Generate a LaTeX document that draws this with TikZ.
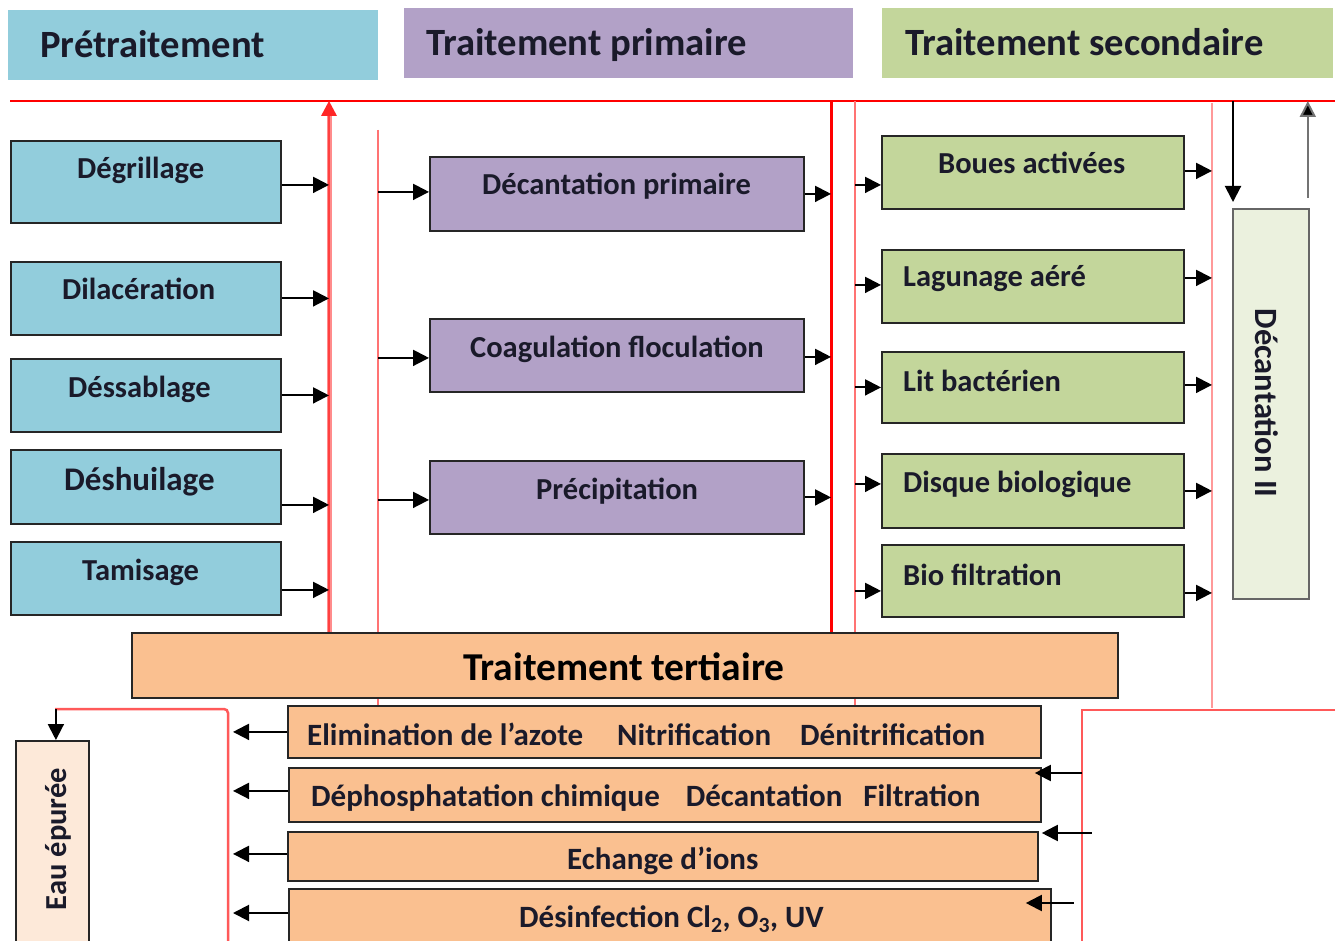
\documentclass[tikz,border=0pt]{standalone}
\usepackage{fontspec}
\setmainfont{Carlito}
\usetikzlibrary{arrows.meta}
\definecolor{cblue}{HTML}{92CDDC}
\definecolor{cpurp}{HTML}{B2A1C7}
\definecolor{cgreen}{HTML}{C3D69B}
\definecolor{corange}{HTML}{FAC090}
\definecolor{cdec}{HTML}{EBF1DE}
\definecolor{ceau}{HTML}{FDE9D9}
\definecolor{ctext}{HTML}{1A1A2A}
\tikzset{
  box/.style={draw=black!85, line width=1.8pt, anchor=north west, inner sep=0pt},
  hdr/.style={anchor=north west, inner sep=0pt},
  lab/.style={anchor=base west, inner sep=0pt, text=ctext, font=\fontsize{30.5}{36}\selectfont\bfseries},
  blab/.style={lab, font=\fontsize{31}{36}\selectfont\bfseries},
  htxt/.style={anchor=base west, inner sep=0pt, text=ctext, font=\fontsize{38.6}{44}\selectfont\bfseries},
  arr/.style={draw=black, line width=2pt, -{Triangle[length=16pt,width=16pt]}},
  arrg/.style={draw=black!55, line width=2pt, -{Triangle[length=16pt,width=16pt,fill=black]}},
}
\begin{document}
\begin{tikzpicture}[x=1pt,y=-1pt]
\useasboundingbox (0,0) rectangle (1341,941);
\clip (0,0) rectangle (1341,941);
\fill[white] (0,0) rectangle (1341,941);

% headers
\node[hdr, fill=cblue, minimum width=370pt, minimum height=70pt] (h1) at (8,10) {};
\node[hdr, fill=cpurp, minimum width=449pt, minimum height=70pt] (h2) at (404,8) {};
\node[hdr, fill=cgreen, minimum width=451pt, minimum height=70pt] (h3) at (882,8) {};
\node[htxt] (t1) at (40,58) {Prétraitement};
\node[htxt] (t2) at (426,56) {Traitement primaire};
\node[htxt] (t3) at (905,56) {Traitement secondaire};

% reference coordinates of the red lines
\coordinate (T) at (0,101);
\coordinate (L1) at (329,101);
\coordinate (L2) at (378,130);
\coordinate (L3) at (831,101);
\coordinate (L4) at (855,101);
\coordinate (L5) at (1212,103);
\coordinate (LB) at (228,709);
\coordinate (RB) at (1082,710);
\coordinate (X5) at (233,0);

% red lines behind boxes
\draw[red, line width=2pt] (10,101) -- (1335,101);
\draw[red!55, line width=2.6pt] (L2) -- (378,705);
\draw[red!55, line width=2.6pt] (L4) -- (855,705);
\draw[red!40, line width=2pt] (L5) -- (1212,708);
\draw[red!65, line width=2.5pt, rounded corners=4pt] (55,709) -- (LB) -- (228,945);
\draw[red!65, line width=2.5pt] (1335,710) -- (RB) -- (1082,945);

% pretreatment boxes
\node[box, fill=cblue, minimum width=270pt, minimum height=82pt] (dg) at (10,140) {};
\node[box, fill=cblue, minimum width=270pt, minimum height=73pt] (dl) at (10,261) {};
\node[box, fill=cblue, minimum width=270pt, minimum height=73pt] (ds) at (10,358) {};
\node[box, fill=cblue, minimum width=270pt, minimum height=74pt] (dh) at (10,449) {};
\node[box, fill=cblue, minimum width=270pt, minimum height=73pt] (tm) at (10,541) {};
\node[lab] at (77,179) {Dégrillage};
\node[lab] at (62,300) {Dilacération};
\node[lab] at (68,397) {Déssablage};
\node[lab, font=\fontsize{33}{38}\selectfont\bfseries] at (64,490) {Déshuilage};
\node[lab] at (82,580) {Tamisage};

% primary boxes
\node[box, fill=cpurp, minimum width=374pt, minimum height=74pt] (dp) at (429,156) {};
\node[box, fill=cpurp, minimum width=374pt, minimum height=73pt] (cf) at (429,318) {};
\node[box, fill=cpurp, minimum width=374pt, minimum height=73pt] (pr) at (429,460) {};
\node[lab] at (482,195) {Décantation primaire};
\node[lab] at (470,357) {Coagulation floculation};
\node[lab] at (536,499) {Précipitation};

% secondary boxes
\node[box, fill=cgreen, minimum width=302pt, minimum height=73pt] (ba) at (881,135) {};
\node[box, fill=cgreen, minimum width=302pt, minimum height=73pt] (lg) at (881,249) {};
\node[box, fill=cgreen, minimum width=302pt, minimum height=71pt] (lb) at (881,351) {};
\node[box, fill=cgreen, minimum width=302pt, minimum height=74pt] (db) at (881,453) {};
\node[box, fill=cgreen, minimum width=302pt, minimum height=72pt] (bf) at (881,544) {};
\node[lab] at (938,174) {Boues activées};
\node[lab] at (903,287) {Lagunage aéré};
\node[lab] at (903,391) {Lit bactérien};
\node[lab] at (903,492) {Disque biologique};
\node[lab] at (903,585) {Bio filtration};

% decantation II
\node[box, draw=black!60, fill=cdec, minimum width=76pt, minimum height=390pt] (d2) at (1232,208) {};
\node[lab, anchor=center, rotate=-90, font=\fontsize{32.5}{38}\selectfont\bfseries] at (1267,403) {Décantation II};

% thick red lines (front)
\draw[red!45, line width=5pt] (329,632) -- (329,112);
\draw[red!75, line width=1.2pt] (329,632) -- (329,112);
\fill[red!85] (329,101) -- (337,116) -- (321,116) -- cycle;
\draw[red, line width=3pt] (L3) -- (831,632);

% tertiary
\node[box, fill=corange, minimum width=986pt, minimum height=65pt] (tt) at (131,632) {};
\node[htxt, text=black, font=\fontsize{39.5}{44}\selectfont\bfseries] at (463,680) {Traitement tertiaire};
\node[box, fill=corange, minimum width=753pt, minimum height=52pt] (el) at (287,705) {};
\node[box, fill=corange, minimum width=752pt, minimum height=54pt] (dph) at (288,767) {};
\node[box, fill=corange, minimum width=750pt, minimum height=49pt] (ec) at (287,831) {};
\node[box, fill=corange, minimum width=762pt, minimum height=80pt] (dsf) at (288,888) {};
\node[blab] at (307,745) {Elimination de l’azote\hspace{34pt}Nitrification\hspace{29pt}Dénitrification};
\node[blab] at (311,806) {Déphosphatation chimique\hspace{26pt}Décantation\hspace{21pt}Filtration};
\node[blab] at (567,869) {Echange d’ions};
\node[blab] at (519,927) {Désinfection Cl\textsubscript{2}, O\textsubscript{3}, UV};

% eau epuree
\node[box, fill=ceau, minimum width=73pt, minimum height=220pt] (ep) at (15,740) {};
\node[lab, anchor=center, rotate=90] at (58,839) {Eau épurée};

% arrows pretreatment -> L1
\draw[arr] ([yshift=-3pt]dg.east) -- ([yshift=-3pt]dg.east -| L1);
\draw[arr] (dl.east) -- (dl.east -| L1);
\draw[arr] (ds.east) -- (ds.east -| L1);
\draw[arr] ([yshift=-18pt]dh.east) -- ([yshift=-18pt]dh.east -| L1);
\draw[arr] ([yshift=-11.5pt]tm.east) -- ([yshift=-11.5pt]tm.east -| L1);

% L2 -> primary
\draw[arr] ([yshift=2pt]dp.west -| L2) -- ([yshift=2pt]dp.west);
\draw[arr] ([yshift=-2.5pt]cf.west -| L2) -- ([yshift=-2.5pt]cf.west);
\draw[arr] ([yshift=-2.5pt]pr.west -| L2) -- ([yshift=-2.5pt]pr.west);
% primary -> L3
\draw[arr] (dp.east) -- (dp.east -| L3);
\draw[arr] ([yshift=-1.5pt]cf.east) -- ([yshift=-1.5pt]cf.east -| L3);
\draw[arr] (pr.east) -- (pr.east -| L3);

% L4 -> secondary
\draw[arr] ([yshift=-12.5pt]ba.west -| L4) -- ([yshift=-12.5pt]ba.west);
\draw[arr] ([yshift=1.5pt]lg.west -| L4) -- ([yshift=1.5pt]lg.west);
\draw[arr] (lb.west -| L4) -- (lb.west);
\draw[arr] ([yshift=7pt]db.west -| L4) -- ([yshift=7pt]db.west);
\draw[arr] ([yshift=-10pt]bf.west -| L4) -- ([yshift=-10pt]bf.west);
% secondary -> L5
\draw[arr] ([yshift=1.5pt]ba.east) -- ([yshift=1.5pt]ba.east -| L5);
\draw[arr] ([yshift=8.5pt]lg.east) -- ([yshift=8.5pt]lg.east -| L5);
\draw[arr] ([yshift=2.5pt]lb.east) -- ([yshift=2.5pt]lb.east -| L5);
\draw[arr] (db.east) -- (db.east -| L5);
\draw[arr] ([yshift=-12pt]bf.east) -- ([yshift=-12pt]bf.east -| L5);

% decantation II arrows
\coordinate (dn) at ([xshift=1pt,yshift=6pt]d2.north west);
\draw[arr] (dn |- T) -- (dn);
\coordinate (up) at ([xshift=-2pt,yshift=10pt]d2.north east);
\draw[arrg] (up) -- (up |- T);

% tertiary arrows to left
\draw[arr] (el.west) -- (el.west -| X5);
\draw[arr] ([yshift=4pt]dph.west) -- ([yshift=4pt]dph.west -| X5);
\draw[arr] ([yshift=2.5pt]ec.west) -- ([yshift=2.5pt]ec.west -| X5);
\coordinate (dsl) at ([yshift=-25pt]dsf.north west);
\draw[arr] (dsl) -- (dsl -| X5);
\draw[arr] ([xshift=3.5pt]ep.north |- LB) -- ([xshift=3.5pt]ep.north);

% arrows from right red line
\coordinate (a1) at ([xshift=-7pt,yshift=-6pt]dph.north east);
\draw[arr] (a1 -| RB) -- (a1);
\coordinate (a2) at ([xshift=3pt,yshift=-2pt]ec.north east);
\draw[arr] ([xshift=50pt]a2) -- (a2);
\coordinate (a3) at ([xshift=-26pt,yshift=-15pt]dsf.north east);
\draw[arr] ([xshift=48pt]a3) -- (a3);
\end{tikzpicture}
\end{document}
